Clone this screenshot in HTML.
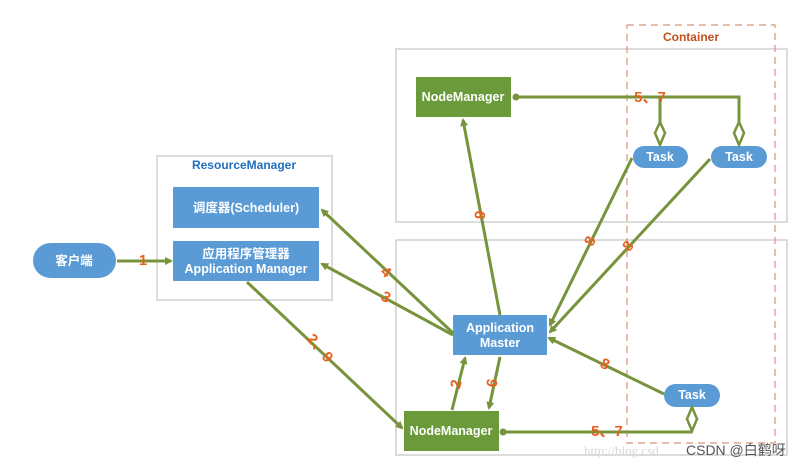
<!DOCTYPE html>
<html><head><meta charset="utf-8"><style>
html,body{margin:0;padding:0;background:#fff;width:802px;height:466px;overflow:hidden}
svg{display:block}
text{font-family:"Liberation Sans","Noto Sans CJK SC",sans-serif}
.w{fill:#fff;font-weight:bold;font-size:12.5px;text-anchor:middle}
.o{fill:#e8601c;font-weight:bold;font-size:15px;text-anchor:middle}
.l{stroke:#77933c;stroke-width:3;fill:none}
</style></head><body>
<svg width="802" height="466" viewBox="0 0 802 466">
<defs>
<marker id="a" markerWidth="8" markerHeight="8" refX="6" refY="4" orient="auto" markerUnits="userSpaceOnUse">
<path d="M0,0 L8,4 L0,8 Z" fill="#77933c"/></marker>
</defs>
<rect x="157" y="156" width="175" height="144" fill="none" stroke="#d0d0d0" stroke-width="1.5"/>
<rect x="396" y="49" width="391" height="173" fill="none" stroke="#d0d0d0" stroke-width="1.5"/>
<rect x="396" y="240" width="391" height="215" fill="none" stroke="#d0d0d0" stroke-width="1.5"/>
<rect x="627" y="25" width="148" height="418" fill="none" stroke="#d9957a" stroke-width="1.2" stroke-dasharray="7,5"/>
<text x="691" y="41" style="fill:#c0501c;font-weight:bold;font-size:12px;text-anchor:middle">Container</text>
<text x="244" y="169" style="fill:#1f6fbf;font-weight:bold;font-size:12px;text-anchor:middle">ResourceManager</text>

<rect x="33" y="243" width="83" height="35" rx="17.5" fill="#5b9bd5"/>
<text class="w" x="74" y="265">客户端</text>
<rect x="173" y="187" width="146" height="41" fill="#5b9bd5"/>
<text class="w" x="246" y="212">调度器(Scheduler)</text>
<rect x="173" y="241" width="146" height="40" fill="#5b9bd5"/>
<text class="w" x="246" y="258">应用程序管理器</text>
<text class="w" x="246" y="273">Application Manager</text>
<rect x="416" y="77" width="95" height="40" fill="#6a9a3a"/>
<text class="w" x="463" y="101">NodeManager</text>
<rect x="453" y="315" width="94" height="40" fill="#5b9bd5"/>
<text class="w" x="500" y="332">Application</text>
<text class="w" x="500" y="347">Master</text>
<rect x="404" y="411" width="95" height="40" fill="#6a9a3a"/>
<text class="w" x="451" y="435">NodeManager</text>
<rect x="633" y="146" width="55" height="22" rx="11" fill="#5b9bd5"/>
<text class="w" x="660" y="161">Task</text>
<rect x="711" y="146" width="56" height="22" rx="11" fill="#5b9bd5"/>
<text class="w" x="739" y="161">Task</text>
<rect x="664" y="384" width="56" height="23" rx="11.5" fill="#5b9bd5"/>
<text class="w" x="692" y="399">Task</text>

<line class="l" x1="117" y1="261" x2="171" y2="261" marker-end="url(#a)"/>
<line class="l" x1="453" y1="333" x2="322" y2="210" marker-end="url(#a)"/>
<line class="l" x1="453" y1="335" x2="322" y2="264" marker-end="url(#a)"/>
<line class="l" x1="247" y1="282" x2="402" y2="428" marker-end="url(#a)"/>
<line class="l" x1="500" y1="315" x2="463" y2="120" marker-end="url(#a)"/>
<line class="l" x1="632" y1="158" x2="550" y2="325" marker-end="url(#a)"/>
<line class="l" x1="710" y1="159" x2="550" y2="332" marker-end="url(#a)"/>
<line class="l" x1="664" y1="394" x2="549" y2="338" marker-end="url(#a)"/>
<line class="l" x1="452" y1="410" x2="465" y2="358" marker-end="url(#a)"/>
<line class="l" x1="500" y1="357" x2="489" y2="408" marker-end="url(#a)"/>
<polyline class="l" points="516,97 739,97 739,122"/>
<line class="l" x1="660" y1="97" x2="660" y2="122"/>
<circle cx="516" cy="97" r="3.5" fill="#77933c"/>
<path d="M660,122 L665,133 L660,145 L655,133 Z" fill="#fff" stroke="#77933c" stroke-width="2.5"/>
<path d="M739,122 L744,133 L739,145 L734,133 Z" fill="#fff" stroke="#77933c" stroke-width="2.5"/>
<line class="l" x1="503" y1="432" x2="692" y2="432"/>
<circle cx="503" cy="432" r="3.5" fill="#77933c"/>
<path d="M692,407 L697,419 L692,431 L687,419 Z" fill="#fff" stroke="#77933c" stroke-width="2.5"/>

<text class="o" x="143" y="265">1</text>
<text class="o" x="386" y="277" transform="rotate(40 386 272)">4</text>
<text class="o" x="386" y="302" transform="rotate(30 386 297)">3</text>
<text class="o" x="320" y="353" transform="rotate(50 320 348)">2、9</text>
<text class="o" x="480" y="220" transform="rotate(-80 480 215)">9</text>
<text class="o" x="590" y="246" transform="rotate(-60 590 241)">8</text>
<text class="o" x="628" y="251" transform="rotate(-50 628 246)">8</text>
<text class="o" x="605" y="369" transform="rotate(25 605 364)">8</text>
<text class="o" x="456" y="389" transform="rotate(-75 456 384)">2</text>
<text class="o" x="492" y="388" transform="rotate(-80 492 383)">6</text>
<text class="o" x="650" y="102">5、7</text>
<text class="o" x="607" y="436">5、7</text>

<text x="584" y="455" style="fill:#d8d8d8;font-family:'Liberation Serif',serif;font-size:13px">http://blog.csd</text>
<text x="686" y="455" style="fill:#555;font-size:14px">CSDN @白鹤呀</text>
</svg>
</body></html>
